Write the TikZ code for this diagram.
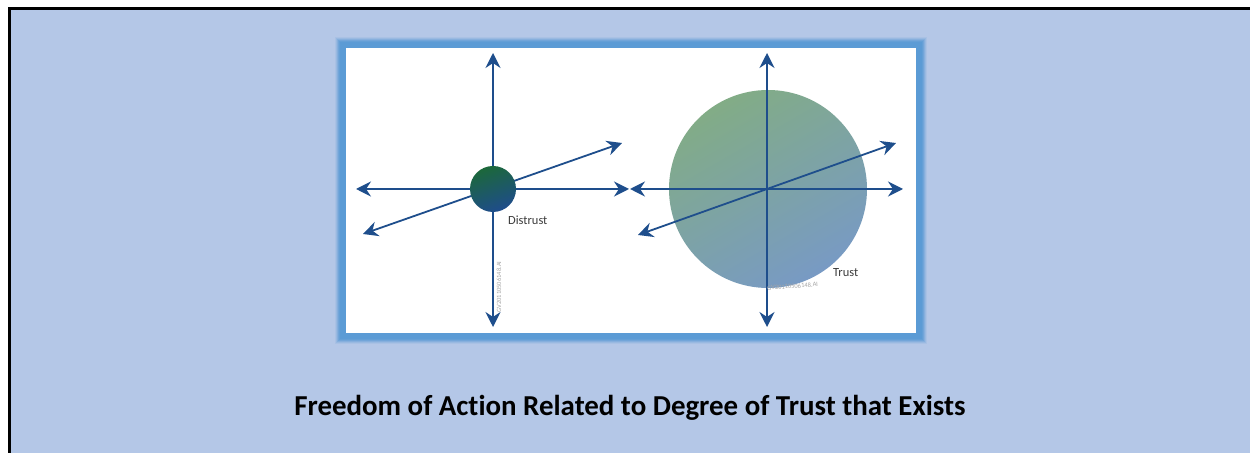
\documentclass[tikz,border=0pt]{standalone}
\usepackage{fontspec}
\setmainfont{Carlito}[Ligatures=NoCommon]
\usetikzlibrary{arrows.meta}
\definecolor{bgblue}{RGB}{180,199,231}
\definecolor{glow}{RGB}{91,155,213}
\definecolor{axis}{RGB}{30,78,140}
\definecolor{sgreen}{RGB}{28,104,58}
\definecolor{sblue}{RGB}{30,76,140}
\definecolor{bgreen}{RGB}{130,172,134}
\definecolor{bblue}{RGB}{120,154,196}
\definecolor{lbl}{RGB}{60,60,60}
\tikzset{
  ax/.style={draw=axis, line width=1.8bp, {Stealth[length=15bp,width=15bp,inset=5bp]}-{Stealth[length=15bp,width=15bp,inset=5bp]}},
  lab/.style={font=\fontsize{12.5}{14}\selectfont, text=lbl, inner sep=0pt},
  wm/.style={font=\fontsize{6.5}{7}\selectfont, text=black!35, inner sep=0pt},
}
\begin{document}
\begin{tikzpicture}[x=1bp,y=-1bp]
\useasboundingbox (0,0) rectangle (1250,453);
\clip (0,0) rectangle (1250,453);
\fill[white] (0,0) rectangle (1250,453);
\fill[bgblue] (9,9) rectangle (1260,460);
\draw[black, line width=3bp] (9,460) -- (9,9) -- (1260,9);
% glow frame
\foreach \d/\o in {11/0.12,10/0.2,9/0.3,8/0.45,7/0.6,6/0.8,5/1,0/1}{
  \fill[glow, opacity=\o] (346-\d,48-\d) rectangle (916+\d,333+\d);
}
\fill[white] (346,48) rectangle (916,333);
% left diagram
\coordinate (lt) at (493,53); \coordinate (lb) at (493,327);
\coordinate (ll) at (356,189); \coordinate (lr) at (629,189);
\coordinate (ldl) at (363,234); \coordinate (ldr) at (622,143);
\draw[ax] (lt) -- (lb);
\draw[ax] (ll) -- (lr);
\draw[ax] (ldl) -- (ldr);
\shade[top color=sgreen, bottom color=sblue, shading angle=20] (493,189) circle (23);
\node[circle, minimum size=46bp, inner sep=0pt] (small) at (493,189) {};
\node[lab, anchor=west] (distrust) at (508,220) {Distrust};
\node[wm, rotate=90, anchor=center] (wm1) at (499,287) {GV20110506148.AI};
% right diagram
\shade[top color=bgreen, bottom color=bblue, shading angle=30] (768,189) circle (99);
\node[circle, minimum size=198bp, inner sep=0pt] (big) at (768,189) {};
\coordinate (rt) at (767,53); \coordinate (rb) at (767,327);
\coordinate (rl) at (630,189); \coordinate (rr) at (903,189);
\coordinate (rdl) at (638,235); \coordinate (rdr) at (896,143);
\draw[ax] (rt) -- (rb);
\draw[ax] (rl) -- (rr);
\draw[ax] (rdl) -- (rdr);
\node[lab, anchor=west] (trust) at (833,273) {Trust};
\node[wm, rotate=4, anchor=west] (wm2) at (767,288) {GV20110506148.AI};
% title
\node[font=\bfseries\fontsize{29}{34}\selectfont, inner sep=0pt] (title) at (630,408) {Freedom of Action Related to Degree of Trust that Exists};
\end{tikzpicture}
\end{document}
